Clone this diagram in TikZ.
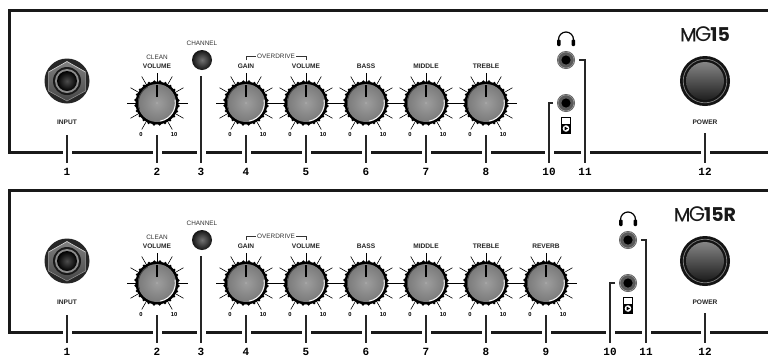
\documentclass[tikz,border=0pt]{standalone}
\usepackage{fontspec}
\setmainfont{Liberation Sans}
\newfontfamily\logofont{Poppins}
\newfontfamily\numfont{Liberation Mono}
\begin{document}
\begin{tikzpicture}[x=1pt,y=-1pt,
  lab/.style={font=\fontsize{6.6}{7}\selectfont\bfseries,inner sep=0pt,text=black!85},
  thinlab/.style={font=\fontsize{6.4}{7}\selectfont,inner sep=0pt,text=black!80},
  scalelab/.style={font=\fontsize{5.8}{6}\selectfont\bfseries,inner sep=0pt},
  numlab/.style={font=\numfont\fontsize{11}{11}\selectfont\bfseries,inner sep=0pt,outer ysep=4pt,text height=8pt,text depth=0pt},
  panelline/.style={line width=3pt,draw=black!90},
  conn/.style={line width=1.3pt,draw=black!85},
  gapmark/.style={fill=white},
  tick/.style={line width=.6pt,draw=black},
  logo/.style={font=\logofont\fontsize{19}{19}\selectfont,inner sep=0pt,text=black!90}]
\newcommand{\mygap}[1]{\fill[gapmark] (#1-4.5,148) rectangle (#1+4.5,156);}
\newcommand{\myknob}[4]{% name, x, y, number
  \coordinate (#1-s) at (#2,#3+32);
  \node[numlab] (#1-n) at (#2,#3+68) {#4};
  \mygap{#2}
  \draw[conn] (#1-s) -- (#1-n.north);
  \foreach \a in {-150,-120,...,150}
    \draw[tick] (#2,#3) +(90+\a:20pt) -- +(90+\a:30.5pt);
  \fill[black] (#2,#3) circle[radius=21.5pt];
  \foreach \a in {0,15,...,345}
    \fill[black] (#2,#3)+(\a+7:21.5pt) circle[radius=1.5pt];
  \shade[inner color=black!38,outer color=black!52] (#2,#3) circle[radius=19pt];
  \draw[white,line width=.9pt,line cap=round] (#2,#3) ++(-80:18.3pt) arc[start angle=-80,end angle=10,radius=18.3pt];
  \draw[black!75,line width=.8pt] (#2,#3) ++(120:18.6pt) arc[start angle=120,end angle=200,radius=18.6pt];
  \draw[black,line width=2.2pt] (#2,#3-6) -- (#2,#3-18);
  \fill[white] (#2,#3) circle[radius=.4pt];
  \node[scalelab] (#1-lo) at (#2-16,#3+31) {0};
  \node[scalelab] (#1-hi) at (#2+17,#3+31) {10};
}
\newcommand{\myjack}[3]{% name, x, y
  \fill[black!65] (#2,#3) circle[radius=9pt];
  \draw[black!40,line width=.6pt] (#2,#3) circle[radius=8pt];
  \fill[black] (#2,#3) circle[radius=4.6pt];
  \coordinate (#1) at (#2,#3);
}
\newcommand{\mypanel}[5]{% yoffset, logo, jack x, conn10 x, conn11 x
 \begin{scope}[yshift=-#1pt]
  \draw[panelline] (768,10) -- (9,10) -- (9,152) -- (768,152);
  % input
  \node[lab] (input-l) at (67,122) {INPUT};
  \coordinate (input-s) at (67,135);
  \node[numlab] (input-n) at (67,171) {1};
  \mygap{67}
  \draw[conn] (input-s) -- (input-n.north);
  \fill[black!85] (67,81) circle[radius=22.5pt];
  \shade[top color=black!50,bottom color=black!72] (48.5,72) -- (67,61.5) -- (85.5,72) -- (85.5,91) -- (67,101) -- (48.5,91) -- cycle;
  \draw[black!20,line width=.7pt] (48.5,72) -- (67,61.5) -- (85.5,72);
  \draw[black!40,line width=.5pt] (85.5,72) -- (85.5,91) -- (67,101) -- (48.5,91) -- (48.5,72);
  \fill[black!90] (67,81) circle[radius=14pt];
  \fill[black!45] (67,81) circle[radius=12pt];
  \shade[inner color=black!70,outer color=black] (67,81) circle[radius=10pt];
  % channel
  \node[thinlab] (chan-l) at (202,43) {CHANNEL};
  \coordinate (chan-s) at (201,76);
  \node[numlab] (chan-n) at (201,171) {3};
  \mygap{201}
  \draw[conn] (chan-s) -- (chan-n.north);
  \shade[inner color=black!55,outer color=black!92] (202,60) circle[radius=10pt];
  % knob labels
  \node[thinlab] (clean-l) at (157,57) {CLEAN};
  \node[lab] (vol1-l) at (157,66) {VOLUME};
  \node[lab] (gain-l) at (246,66) {GAIN};
  \node[lab] (vol2-l) at (306,66) {VOLUME};
  \node[lab] (bass-l) at (366,66) {BASS};
  \node[lab] (mid-l) at (426,66) {MIDDLE};
  \node[lab] (tre-l) at (486,66) {TREBLE};
  \node[thinlab,inner xsep=1pt] (od-l) at (276,56) {OVERDRIVE};
  \coordinate (od-a) at (246,60);
  \coordinate (od-b) at (306,60);
  \draw[black!80,line width=.5pt] (od-a) |- (od-l.west);
  \draw[black!80,line width=.5pt] (od-b) |- (od-l.east);
  \myknob{k2}{157}{103}{2}
  \myknob{k4}{246}{103}{4}
  \myknob{k5}{306}{103}{5}
  \myknob{k6}{366}{103}{6}
  \myknob{k7}{426}{103}{7}
  \myknob{k8}{486}{103}{8}
  % jacks
  \coordinate (j10-s) at (#3-13,103);
  \coordinate (j11-s) at (#3+13,60);
  \node[numlab] (j10-n) at (#4,171) {10};
  \node[numlab] (j11-n) at (#5,171) {11};
  \mygap{#4}
  \mygap{#5}
  \draw[conn] (j10-s) -| (j10-n.north);
  \draw[conn] (j11-s) -| (j11-n.north);
  \myjack{j11}{#3}{60}
  \myjack{j10}{#3}{103}
  % headphones
  \draw[black,line width=1.2pt] (#3-7.5,41) -- (#3-7.5,39.5) arc[start angle=180,end angle=0,radius=7.5pt] -- (#3+7.5,41);
  \fill[black,rounded corners=1pt] (#3-9,39.5) rectangle (#3-5.5,46);
  \fill[black,rounded corners=1pt] (#3+5.5,39.5) rectangle (#3+9,46);
  % player
  \draw[black,line width=.9pt,fill=white] (#3-4.5,117) rectangle (#3+4.5,133);
  \fill[black] (#3-4.5,124) rectangle (#3+4.5,133);
  \fill[white] (#3,128.5) circle[radius=3.3pt];
  \fill[black] (#3-1.4,126.5) -- (#3+2,128.5) -- (#3-1.4,130.5) -- cycle;
  % power
  \node[lab] (pow-l) at (705,122) {POWER};
  \coordinate (pow-s) at (705,133);
  \node[numlab] (pow-n) at (705,171) {12};
  \mygap{705}
  \draw[conn] (pow-s) -- (pow-n.north);
  \fill[black!92] (705,81) circle[radius=25pt];
  \draw[black!50,line width=.7pt] (705,81) circle[radius=21.8pt];
  \shade[top color=black!48,bottom color=black!88] (705,81) circle[radius=19pt];
  \node[logo] (logo) at (705,34) {#2};
 \end{scope}
}
\useasboundingbox (0,0) rectangle (768,357);
\fill[white] (0,0) rectangle (768,357);
\mypanel{0}{{\addfontfeature{FakeBold=0.6}M}\kern-1.5pt{\fontsize{21}{21}\selectfont G}\kern-1pt{\bfseries 15}}{566}{549}{585}
\mypanel{180}{{\addfontfeature{FakeBold=0.6}M}\kern-1.5pt{\fontsize{21}{21}\selectfont G}\kern-1pt{\bfseries 15R}}{628}{610}{646}
\begin{scope}[yshift=-180pt]
  \node[lab] (rev-l) at (546,66) {REVERB};
  \myknob{k9}{546}{103}{9}
\end{scope}
\end{tikzpicture}
\end{document}
